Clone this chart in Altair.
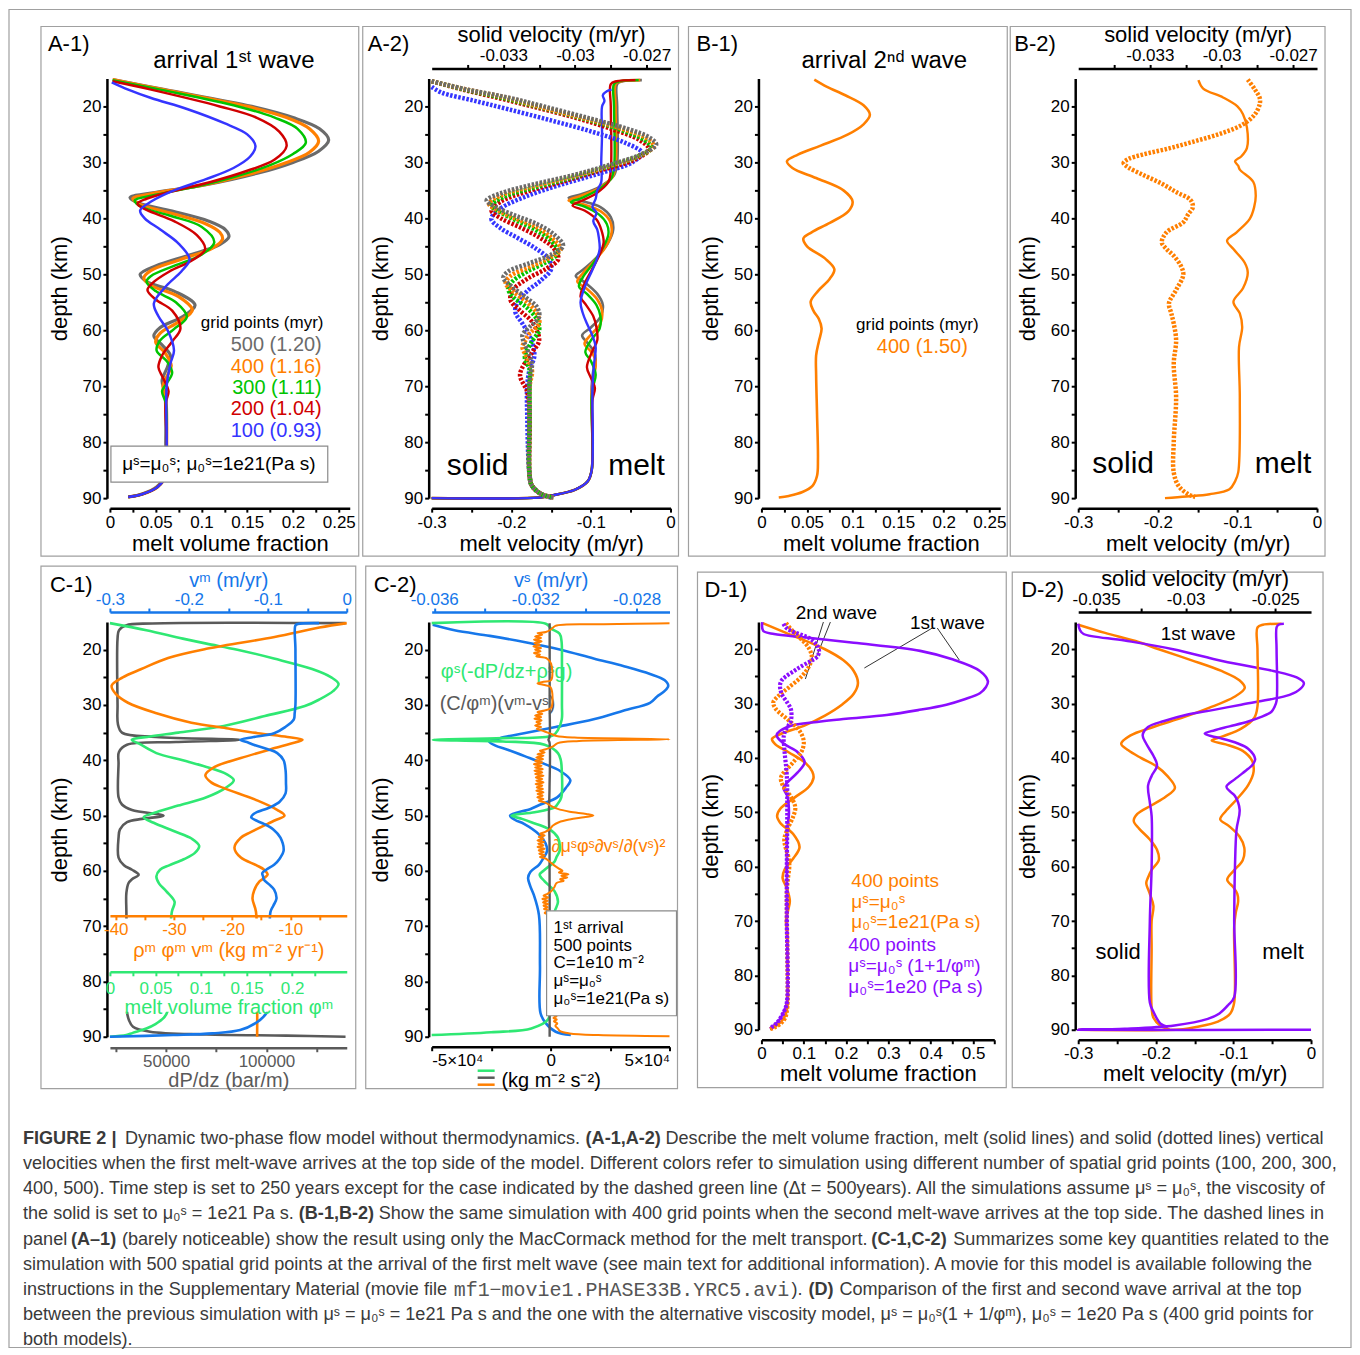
import altair as alt
import pandas as pd

FONT = "Liberation Sans"
MONO = "Liberation Mono"

GREY = "#6b6b6b"
ORANGE = "#ff7f00"
GREEN = "#00c400"
RED = "#d00000"
BLUE = "#3535ff"
PURPLE = "#8b0dff"
CBLUE = "#1677ea"
CGREEN = "#2fe873"
CGREY = "#5a5a5a"

# ---------------- data: (depth km, value) ----------------
A1_500 = [(15.2,0.003),(17.0,0.06),(20.0,0.155),(22.0,0.2),(24.0,0.229),(26.0,0.239),(28.0,0.228),(30.0,0.2),(32.0,0.16),(34.0,0.105),(35.5,0.045),(36.3,0.022),(37.3,0.032),(38.7,0.068),(40.5,0.108),(42.0,0.126),(43.3,0.13),(44.7,0.12),(46.5,0.088),(48.5,0.05),(50.0,0.033),(51.3,0.04),(53.0,0.07),(55.5,0.093),(57.5,0.08),(59.5,0.055),(61.0,0.048),(62.8,0.058),(64.5,0.066),(66.5,0.063),(69.0,0.057),(71.0,0.060),(75.0,0.061),(80.0,0.061),(86.0,0.060),(88.0,0.051),(89.2,0.036),(89.8,0.02)]
A1_400 = [(15.2,0.003),(17.0,0.058),(20.0,0.15),(22.0,0.193),(24.0,0.218),(26.2,0.228),(28.2,0.218),(30.2,0.19),(32.2,0.15),(34.1,0.1),(35.6,0.045),(36.5,0.025),(37.5,0.033),(39.0,0.065),(41.0,0.105),(42.5,0.12),(43.7,0.123),(45.3,0.112),(47.3,0.078),(49.3,0.045),(50.7,0.037),(52.0,0.045),(54.0,0.075),(56.4,0.09),(58.5,0.075),(60.5,0.055),(62.1,0.05),(64.0,0.06),(66.3,0.067),(68.0,0.063),(70.0,0.058),(72.0,0.061),(80.0,0.062),(86.0,0.061),(88.0,0.052),(89.3,0.035),(89.8,0.02)]
A1_300 = [(15.3,0.003),(17.0,0.055),(20.0,0.14),(22.0,0.18),(24.0,0.205),(26.5,0.214),(28.5,0.2),(30.5,0.175),(32.5,0.138),(34.2,0.098),(35.8,0.05),(36.8,0.027),(38.0,0.035),(39.5,0.065),(41.5,0.1),(44.3,0.114),(46.5,0.1),(48.5,0.07),(50.3,0.045),(51.3,0.04),(53.0,0.05),(55.0,0.072),(57.6,0.084),(59.8,0.07),(61.8,0.055),(63.6,0.051),(65.5,0.062),(67.6,0.068),(69.5,0.062),(70.9,0.057),(73.0,0.061),(80.0,0.062),(86.0,0.061),(88.0,0.052),(89.3,0.035),(89.8,0.02)]
A1_200 = [(15.5,0.003),(17.0,0.045),(20.0,0.12),(22.0,0.16),(24.5,0.185),(27.1,0.193),(29.5,0.18),(31.5,0.15),(33.5,0.11),(35.3,0.065),(36.5,0.04),(37.4,0.03),(38.5,0.04),(40.5,0.07),(43.0,0.095),(45.5,0.104),(47.5,0.09),(49.5,0.065),(51.5,0.047),(52.8,0.041),(54.5,0.05),(56.5,0.068),(59.7,0.077),(62.0,0.068),(64.5,0.057),(66.6,0.053),(68.5,0.058),(70.9,0.064),(73.0,0.061),(80.0,0.062),(86.0,0.061),(88.0,0.052),(89.3,0.035),(89.8,0.02)]
A1_100 = [(15.7,0.002),(17.0,0.02),(18.5,0.045),(20.5,0.085),(23.0,0.125),(25.0,0.15),(27.1,0.159),(29.0,0.153),(31.0,0.135),(33.0,0.105),(35.0,0.07),(37.0,0.045),(38.6,0.033),(40.0,0.038),(42.0,0.055),(44.5,0.075),(47.3,0.087),(49.5,0.078),(52.0,0.062),(55.2,0.048),(57.5,0.053),(60.0,0.063),(63.6,0.07),(66.0,0.066),(70.0,0.062),(80.0,0.062),(86.0,0.061),(88.0,0.052),(89.3,0.035),(89.8,0.02)]

A2S_500 = [(15.5,-0.036),(17.0,-0.0345),(18.5,-0.0327),(20.0,-0.0313),(22.0,-0.0295),(24.0,-0.0278),(25.5,-0.0269),(26.8,-0.0266),(28.5,-0.0272),(30.5,-0.0286),(32.2,-0.03),(34.0,-0.0318),(35.5,-0.0331),(36.8,-0.0337),(38.0,-0.0333),(39.5,-0.0325),(41.0,-0.0316),(42.8,-0.0309),(44.9,-0.0305),(46.5,-0.031),(48.0,-0.0319),(49.5,-0.0328),(50.6,-0.033),(52.0,-0.0327),(54.0,-0.0321),(55.8,-0.0316),(57.6,-0.0315),(59.4,-0.0319),(60.9,-0.0322),(62.5,-0.0321),(64.5,-0.0319),(66.0,-0.0318),(69.0,-0.0319),(75.0,-0.0319),(86.0,-0.0319),(87.8,-0.0318),(89.3,-0.0314),(89.9,-0.0309)]
A2S_400 = [(15.5,-0.036),(17.0,-0.0345),(18.5,-0.0328),(20.0,-0.0315),(22.0,-0.0297),(24.0,-0.028),(25.7,-0.027),(27.1,-0.0267),(28.8,-0.0273),(30.8,-0.0287),(32.5,-0.0301),(34.3,-0.0318),(35.9,-0.0331),(37.4,-0.0336),(38.6,-0.0332),(40.0,-0.0325),(41.6,-0.0316),(43.4,-0.031),(45.5,-0.0306),(47.1,-0.0311),(48.7,-0.0319),(50.3,-0.0327),(51.6,-0.0329),(53.0,-0.0326),(55.0,-0.032),(56.9,-0.0316),(58.8,-0.0315),(60.6,-0.0319),(62.0,-0.0321),(63.0,-0.0322),(65.0,-0.032),(67.2,-0.0318),(70.0,-0.0319),(75.0,-0.0319),(86.0,-0.0319),(87.8,-0.0318),(89.3,-0.0314),(89.9,-0.0309)]
A2S_300 = [(15.5,-0.036),(17.0,-0.0346),(18.5,-0.033),(20.0,-0.0316),(22.0,-0.0298),(24.0,-0.0282),(26.0,-0.0271),(27.4,-0.0268),(29.0,-0.0274),(31.0,-0.0288),(32.8,-0.0302),(34.6,-0.0318),(36.2,-0.033),(37.7,-0.0335),(39.0,-0.0331),(40.5,-0.0324),(42.2,-0.0316),(44.0,-0.031),(46.1,-0.0307),(47.8,-0.0312),(49.5,-0.032),(51.2,-0.0326),(52.5,-0.0328),(54.0,-0.0326),(56.0,-0.032),(58.0,-0.0316),(60.0,-0.0315),(62.0,-0.0318),(64.8,-0.0321),(67.0,-0.0319),(70.0,-0.0319),(75.0,-0.0319),(86.0,-0.0319),(87.8,-0.0318),(89.3,-0.0314),(89.9,-0.0309)]
A2S_200 = [(15.5,-0.036),(17.0,-0.0347),(18.5,-0.0332),(20.0,-0.0318),(22.0,-0.03),(24.0,-0.0285),(26.0,-0.0273),(27.7,-0.0269),(29.5,-0.0275),(31.5,-0.029),(33.3,-0.0304),(35.2,-0.032),(37.0,-0.0331),(38.6,-0.0335),(40.0,-0.0331),(41.6,-0.0323),(43.4,-0.0315),(45.3,-0.0309),(47.3,-0.0307),(49.0,-0.0312),(50.8,-0.032),(52.8,-0.0326),(54.6,-0.0327),(56.5,-0.0323),(58.5,-0.0318),(61.8,-0.0315),(64.0,-0.0318),(67.9,-0.0323),(71.0,-0.032),(75.0,-0.0319),(86.0,-0.0319),(87.8,-0.0318),(89.3,-0.0314),(89.9,-0.0309)]
A2S_100 = [(16.5,-0.036),(17.5,-0.0356),(19.0,-0.0342),(20.5,-0.0328),(22.5,-0.031),(24.5,-0.0293),(26.5,-0.0279),(28.3,-0.0272),(30.0,-0.0276),(32.0,-0.029),(34.0,-0.0306),(36.0,-0.032),(38.2,-0.0331),(40.1,-0.0335),(41.8,-0.0331),(43.5,-0.0324),(45.5,-0.0316),(47.3,-0.0311),(49.1,-0.031),(51.0,-0.0314),(53.0,-0.032),(55.0,-0.0324),(56.7,-0.0325),(58.8,-0.0322),(61.0,-0.0319),(64.5,-0.0317),(67.0,-0.0319),(70.0,-0.032),(75.0,-0.032),(86.0,-0.0319),(87.8,-0.0318),(89.3,-0.0314),(89.9,-0.031)]

A2M_500 = [(15.3,-0.036),(15.5,-0.06),(16.0,-0.067),(20.0,-0.067),(30.0,-0.067),(32.3,-0.071),(34.3,-0.088),(35.7,-0.112),(36.3,-0.128),(36.9,-0.112),(38.0,-0.088),(39.8,-0.075),(42.0,-0.072),(44.5,-0.079),(47.0,-0.093),(49.2,-0.11),(50.3,-0.119),(51.4,-0.108),(53.5,-0.092),(55.5,-0.085),(57.6,-0.088),(59.5,-0.1),(60.9,-0.111),(62.3,-0.104),(63.8,-0.096),(65.4,-0.094),(67.2,-0.097),(70.0,-0.099),(85.0,-0.099),(87.0,-0.104),(88.5,-0.12),(89.5,-0.148),(89.9,-0.165),(90.0,-0.3)]
A2M_400 = [(15.3,-0.038),(15.5,-0.062),(16.0,-0.069),(20.0,-0.069),(30.5,-0.069),(32.6,-0.073),(34.6,-0.09),(36.0,-0.113),(36.8,-0.128),(37.5,-0.11),(38.7,-0.088),(40.5,-0.076),(42.5,-0.074),(45.0,-0.081),(47.5,-0.095),(49.8,-0.11),(51.3,-0.117),(52.5,-0.106),(54.5,-0.092),(56.5,-0.086),(58.8,-0.088),(60.8,-0.1),(62.4,-0.108),(63.8,-0.1),(65.0,-0.095),(66.5,-0.094),(68.5,-0.097),(71.0,-0.099),(85.0,-0.099),(87.0,-0.104),(88.5,-0.12),(89.5,-0.148),(89.9,-0.165),(90.0,-0.3)]
A2M_300 = [(15.3,-0.04),(15.5,-0.064),(16.0,-0.071),(20.0,-0.071),(31.0,-0.071),(33.0,-0.075),(35.0,-0.092),(36.4,-0.112),(37.1,-0.125),(37.9,-0.108),(39.3,-0.09),(41.0,-0.08),(42.8,-0.078),(45.3,-0.085),(48.0,-0.097),(50.5,-0.11),(52.2,-0.115),(53.5,-0.105),(55.5,-0.093),(57.5,-0.088),(59.7,-0.089),(61.8,-0.1),(63.9,-0.107),(65.5,-0.1),(67.9,-0.094),(70.0,-0.097),(72.0,-0.099),(85.0,-0.099),(87.0,-0.104),(88.5,-0.12),(89.5,-0.148),(89.9,-0.165),(90.0,-0.3)]
A2M_200 = [(15.3,-0.044),(15.5,-0.068),(16.0,-0.075),(20.0,-0.075),(31.5,-0.075),(33.5,-0.078),(35.5,-0.093),(36.9,-0.112),(37.7,-0.123),(38.6,-0.108),(40.2,-0.093),(42.0,-0.087),(44.3,-0.084),(46.8,-0.09),(49.5,-0.1),(52.0,-0.109),(54.0,-0.113),(55.5,-0.106),(57.5,-0.097),(59.5,-0.093),(61.8,-0.092),(64.0,-0.099),(66.6,-0.105),(68.5,-0.1),(70.3,-0.095),(72.5,-0.098),(85.0,-0.099),(87.0,-0.104),(88.5,-0.12),(89.5,-0.148),(89.9,-0.165),(90.0,-0.3)]
A2M_100 = [(17.0,-0.074),(17.3,-0.08),(18.0,-0.085),(19.0,-0.083),(20.0,-0.086),(25.0,-0.086),(30.0,-0.087),(33.5,-0.087),(35.0,-0.092),(36.5,-0.094),(38.0,-0.098),(39.0,-0.093),(40.5,-0.097),(42.0,-0.092),(43.5,-0.09),(45.5,-0.089),(47.5,-0.093),(49.5,-0.099),(52.0,-0.107),(55.0,-0.113),(57.0,-0.11),(58.8,-0.105),(61.0,-0.098),(63.0,-0.094),(66.0,-0.096),(70.0,-0.098),(85.0,-0.099),(87.0,-0.104),(88.5,-0.12),(89.5,-0.148),(89.9,-0.165),(90.0,-0.3)]

B1_400 = [(15.2,0.058),(16.5,0.072),(18.0,0.092),(19.8,0.112),(21.5,0.119),(23.2,0.112),(25.0,0.095),(27.0,0.065),(28.6,0.04),(29.8,0.028),(31.0,0.034),(32.8,0.06),(35.0,0.09),(37.0,0.1),(38.8,0.095),(40.8,0.075),(42.5,0.055),(43.6,0.046),(45.0,0.05),(47.2,0.07),(49.1,0.08),(50.8,0.075),(53.0,0.062),(54.9,0.054),(56.5,0.057),(58.0,0.063),(59.7,0.066),(62.0,0.063),(64.5,0.06),(68.0,0.06),(75.0,0.061),(83.0,0.062),(86.0,0.061),(87.8,0.056),(88.9,0.045),(89.6,0.03),(89.9,0.019)]
B2S_400 = [(15.2,-0.0289),(17.0,-0.0286),(18.5,-0.0284),(19.6,-0.0284),(21.4,-0.0286),(23.2,-0.0291),(24.8,-0.03),(26.2,-0.0311),(27.5,-0.0322),(28.6,-0.0333),(29.4,-0.0339),(30.1,-0.0341),(30.9,-0.0339),(32.2,-0.0333),(33.8,-0.0325),(35.3,-0.0319),(36.7,-0.0313),(38.0,-0.0312),(39.3,-0.0314),(40.7,-0.0316),(42.5,-0.0323),(44.3,-0.0325),(45.5,-0.0323),(46.7,-0.032),(48.5,-0.0317),(50.1,-0.0316),(52.8,-0.0319),(55.2,-0.0322),(57.0,-0.0321),(58.8,-0.032),(61.8,-0.0319),(66.0,-0.032),(72.0,-0.0319),(80.0,-0.032),(85.4,-0.032),(87.8,-0.0318),(89.3,-0.0314),(89.8,-0.0311)]
B2M_400 = [(15.3,-0.149),(16.8,-0.143),(18.4,-0.118),(20.0,-0.1),(21.4,-0.093),(23.8,-0.088),(27.4,-0.088),(28.9,-0.095),(29.8,-0.103),(30.6,-0.099),(31.3,-0.097),(33.5,-0.08),(35.9,-0.077),(38.0,-0.079),(40.1,-0.0845),(42.5,-0.101),(44.0,-0.113),(45.5,-0.105),(47.9,-0.091),(49.7,-0.087),(52.5,-0.093),(54.9,-0.105),(57.0,-0.097),(59.4,-0.094),(63.0,-0.098),(72.0,-0.097),(85.4,-0.099),(87.0,-0.103),(88.4,-0.11),(89.3,-0.135),(89.7,-0.164),(90.0,-0.191)]

C1_DPDZ = [(15.2,139400),(15.25,43000),(15.6,30000),(16.5,26500),(18.0,25800),(30.0,25800),(33.5,26000),(35.0,28000),(35.8,45000),(36.3,86800),(36.7,55000),(37.2,30500),(38.5,26500),(40.6,26300),(46.7,26300),(48.0,28000),(49.0,33000),(50.0,48700),(50.6,38000),(51.2,30500),(52.5,27000),(54.0,26300),(57.6,26300),(59.0,29000),(59.8,33000),(60.7,36300),(61.5,33000),(62.2,31300),(64.0,30200),(67.4,30200),(75.0,30400),(85.5,30500),(87.0,31500),(88.2,33500),(89.1,42000),(89.6,70000),(89.8,110000),(90.0,139400)]
C1_PHI = [(15.2,0.0),(16.5,0.04),(18.0,0.08),(18.9,0.106),(20.0,0.14),(21.6,0.18),(23.5,0.222),(25.0,0.243),(26.2,0.251),(27.5,0.245),(29.0,0.23),(30.2,0.214),(32.0,0.17),(33.8,0.125),(35.0,0.075),(35.7,0.044),(36.3,0.024),(37.0,0.032),(38.7,0.051),(40.0,0.08),(41.2,0.106),(42.5,0.128),(43.6,0.136),(45.0,0.127),(46.7,0.106),(48.2,0.075),(49.4,0.051),(50.3,0.037),(51.3,0.048),(52.8,0.07),(54.2,0.09),(55.5,0.098),(56.8,0.093),(57.9,0.081),(59.0,0.065),(59.8,0.055),(61.0,0.051),(62.3,0.054),(63.7,0.062),(65.6,0.071),(67.4,0.068),(75.0,0.065),(85.5,0.063),(86.6,0.059),(87.7,0.05),(88.5,0.04),(89.3,0.025),(89.7,0.018),(90.0,0.0)]
C1_FLUX = [(15.2,-0.3),(16.0,-5.0),(17.7,-12.7),(19.8,-24.2),(21.5,-31.0),(23.5,-35.6),(25.0,-38.8),(26.5,-40.7),(28.0,-40.0),(29.6,-37.9),(31.5,-33.0),(33.2,-27.0),(34.2,-21.0),(35.1,-15.6),(35.8,-10.5),(36.3,-7.9),(37.0,-10.0),(37.8,-12.7),(39.6,-18.5),(41.2,-23.0),(42.7,-24.6),(44.0,-23.6),(45.0,-21.5),(47.3,-15.6),(49.0,-12.2),(50.0,-11.0),(50.8,-12.5),(51.5,-13.9),(53.0,-16.8),(54.0,-18.5),(55.8,-19.6),(57.6,-18.5),(59.0,-15.8),(59.8,-14.5),(60.7,-13.9),(61.3,-14.5),(61.9,-15.3),(63.5,-16.2),(65.0,-16.5),(67.4,-15.9),(75.0,-15.7),(90.0,-15.7)]
C1_VM = [(15.2,-0.035),(15.35,-0.062),(15.6,-0.065),(20.0,-0.065),(30.0,-0.065),(31.5,-0.066),(32.6,-0.067),(34.0,-0.078),(35.1,-0.092),(35.8,-0.118),(36.3,-0.135),(36.8,-0.125),(37.2,-0.118),(38.0,-0.1),(38.7,-0.088),(40.0,-0.08),(41.8,-0.0775),(44.0,-0.077),(46.0,-0.0775),(47.5,-0.085),(48.5,-0.097),(49.7,-0.118),(50.3,-0.121),(51.0,-0.113),(51.5,-0.105),(52.5,-0.093),(54.0,-0.084),(56.4,-0.08),(57.8,-0.085),(58.9,-0.092),(59.8,-0.102),(60.4,-0.107),(61.0,-0.106),(61.6,-0.105),(62.5,-0.098),(63.4,-0.092),(65.0,-0.089),(66.3,-0.093),(67.4,-0.0966),(75.0,-0.097),(85.0,-0.099),(86.3,-0.105),(87.5,-0.115),(88.8,-0.135),(89.4,-0.17),(89.7,-0.22),(90.0,-0.3)]

C2_VS = [(15.5,-0.03606),(16.5,-0.0352),(17.5,-0.0338),(18.6,-0.03245),(20.0,-0.031),(21.6,-0.0297),(23.0,-0.0285),(24.4,-0.02747),(25.5,-0.0269),(26.5,-0.02675),(27.5,-0.0269),(28.5,-0.0272),(29.6,-0.02747),(31.0,-0.0285),(32.6,-0.0297),(34.0,-0.0312),(35.1,-0.03245),(36.0,-0.0334),(36.6,-0.03383),(37.3,-0.0336),(38.1,-0.0331),(39.3,-0.0324),(40.6,-0.03167),(42.0,-0.031),(43.6,-0.03062),(45.0,-0.0308),(46.7,-0.03114),(48.0,-0.0318),(48.8,-0.03219),(50.0,-0.033),(50.8,-0.0328),(51.5,-0.03245),(53.4,-0.03186),(55.0,-0.0316),(56.4,-0.03154),(57.8,-0.0317),(58.9,-0.03186),(60.2,-0.0322),(61.3,-0.03229),(62.8,-0.0322),(64.4,-0.03206),(68.0,-0.03186),(77.2,-0.03182),(85.7,-0.0318),(87.5,-0.0316),(89.1,-0.0312),(89.7,-0.0306)]
C2_GRAV = [(15.2,-50000),(15.3,-2000),(16.2,300),(17.1,3800),(18.5,4600),(22.3,4770),(30.0,4770),(32.6,4700),(34.5,3100),(35.5,1000),(36.0,-20000),(36.3,-49500),(36.6,-20000),(37.2,-2500),(38.7,3100),(40.0,4300),(41.8,4700),(46.7,4500),(48.0,2800),(48.5,1700),(49.4,-6700),(50.0,-16500),(50.6,-12000),(51.2,-8100),(52.5,-400),(54.0,3100),(55.5,3900),(56.4,3800),(57.5,2500),(58.3,1700),(59.8,-2500),(60.7,-4600),(61.9,-2500),(63.7,1700),(65.6,3100),(67.4,1700),(71.1,300),(83.3,0),(86.9,-1100),(88.5,-8100),(89.2,-25000),(89.7,-50000)]
C2_DRAG = [(15.2,-400),(30.0,-400),(35.8,-450),(36.3,-900),(36.8,-450),(45.0,-450),(50.0,-700),(55.0,-450),(70.0,-400),(90.0,-400)]
C2_VISC = [(15.2,50000),(15.4,20000),(15.7,2000),(16.3,300),(16.8,-2000),(17.0,-5500),(17.3,-3500),(17.6,-6500),(17.9,-4000),(18.2,-7000),(18.5,-3800),(18.8,-6800),(19.1,-4500),(19.4,-7200),(19.7,-4000),(20.0,-6500),(20.3,-4200),(20.6,-7000),(20.9,-4500),(21.2,-6000),(21.6,-1500),(22.5,200),(25.5,200),(25.8,-3000),(26.1,-5500),(26.4,-2500),(26.8,0),(30.5,200),(31.0,-2500),(31.3,-5500),(31.6,-3500),(31.9,-6500),(32.2,-4000),(32.5,-6800),(32.8,-3800),(33.1,-6000),(33.4,-4200),(33.7,-6500),(34.0,-4000),(34.3,-5800),(34.7,-3000),(35.2,0),(35.6,2500),(35.9,10000),(36.2,50000),(36.5,12000),(36.9,3000),(37.5,1000),(38.0,-2000),(38.3,-4500),(38.6,-2500),(38.9,-5500),(39.2,-3000),(39.5,-6000),(39.8,-3200),(40.1,-6500),(40.4,-3500),(40.7,-7000),(41.0,-3800),(41.3,-6500),(41.6,-3300),(41.9,-6800),(42.2,-3500),(42.5,-6500),(42.8,-3000),(43.1,-6200),(43.4,-3500),(43.7,-6000),(44.0,-3000),(44.3,-6300),(44.6,-3500),(44.9,-5800),(45.2,-3200),(45.5,-6000),(45.8,-3000),(46.1,-5500),(46.4,-3300),(46.7,-5600),(47.0,-3000),(47.3,-5000),(47.7,-2000),(48.2,0),(48.8,3000),(49.3,8000),(49.7,15000),(50.0,18000),(50.3,14000),(50.7,8000),(51.2,3500),(51.8,1000),(52.5,-500),(53.0,-2500),(53.3,-4500),(53.6,-2500),(53.9,-5000),(54.2,-3000),(54.5,-5500),(54.8,-2800),(55.1,-5200),(55.4,-3000),(55.7,-5500),(56.0,-2500),(56.3,-5000),(56.6,-2800),(56.9,-4800),(57.2,-2500),(57.5,-4500),(57.8,-2000),(58.3,-500),(59.0,1500),(59.6,3500),(60.0,5000),(60.3,3500),(60.6,7500),(60.9,4500),(61.2,7000),(61.5,4000),(61.8,5500),(62.2,2500),(63.0,1500),(63.8,0),(64.2,-1500),(64.5,-3000),(64.8,-1000),(65.1,-3500),(65.4,-1200),(65.7,-3200),(66.0,-1000),(66.3,-3000),(66.6,-1200),(66.9,-2800),(67.2,-800),(67.6,-2500),(68.0,-500),(69.0,0),(75.0,0),(84.0,200),(84.5,1500),(84.8,500),(85.1,2000),(85.4,800),(85.7,2200),(86.0,1000),(86.3,2500),(86.6,1200),(86.9,2600),(87.2,1400),(87.6,2800),(88.0,2000),(88.5,3000),(89.0,4000),(89.4,8000),(89.7,20000),(89.9,50000)]

D1_ALT_1 = [(15.0,0.002),(16.6,0.004),(17.2,0.03),(17.8,0.1),(18.8,0.218),(20.3,0.375),(21.9,0.453),(24.0,0.516),(25.9,0.535),(27.0,0.53),(28.1,0.516),(29.2,0.48),(30.2,0.437),(31.2,0.37),(32.1,0.296),(32.8,0.2),(33.3,0.14),(34.3,0.061),(35.8,0.036),(37.4,0.053),(38.9,0.085),(40.8,0.102),(42.7,0.085),(44.5,0.061),(45.5,0.052),(47.0,0.061),(50.1,0.065),(53.2,0.061),(60.0,0.06),(70.0,0.06),(85.0,0.06),(86.7,0.053),(88.6,0.038),(89.8,0.02)]
D1_ALT_2 = [(15.3,0.052),(16.0,0.058),(16.6,0.069),(18.1,0.116),(19.5,0.133),(20.6,0.136),(21.5,0.13),(22.2,0.116),(23.1,0.095),(24.0,0.077),(25.0,0.058),(25.6,0.049),(26.5,0.044),(27.5,0.045),(28.4,0.049),(29.7,0.06),(30.9,0.069),(32.0,0.071),(33.3,0.069),(34.5,0.06),(35.8,0.053),(38.3,0.054),(43.3,0.06),(50.0,0.061),(60.0,0.06),(70.0,0.06),(85.0,0.06),(86.7,0.053),(88.6,0.038),(89.8,0.02)]
D2S_ALT = [(15.3,-0.036),(16.5,-0.0359),(17.2,-0.0357),(18.4,-0.0334),(20.0,-0.0307),(22.2,-0.0279),(24.0,-0.0251),(25.2,-0.0238),(26.2,-0.0234),(27.3,-0.0236),(28.4,-0.0242),(29.3,-0.0254),(30.2,-0.0269),(31.2,-0.0285),(32.1,-0.03),(33.2,-0.0312),(34.3,-0.0321),(35.8,-0.0324),(37.4,-0.0322),(39.6,-0.0318),(41.4,-0.0316),(43.3,-0.0319),(45.1,-0.0321),(48.2,-0.032),(50.7,-0.0319),(60.0,-0.0319),(70.0,-0.032),(85.0,-0.032),(86.7,-0.0318),(88.9,-0.0314),(89.5,-0.031)]
D2M_ALT = [(15.3,-0.035),(15.5,-0.042),(16.0,-0.0444),(20.0,-0.0444),(29.5,-0.0444),(30.6,-0.047),(31.5,-0.051),(32.5,-0.065),(33.3,-0.081),(34.2,-0.105),(34.9,-0.124),(35.5,-0.137),(36.0,-0.128),(36.4,-0.116),(37.3,-0.095),(38.3,-0.081),(40.2,-0.072),(41.2,-0.075),(42.0,-0.081),(43.9,-0.098),(45.3,-0.109),(46.2,-0.104),(47.0,-0.098),(49.5,-0.092),(53.2,-0.096),(60.0,-0.098),(70.0,-0.099),(84.0,-0.099),(85.5,-0.107),(87.0,-0.118),(88.0,-0.133),(89.2,-0.176),(89.8,-0.24),(90.0,-0.3),(90.0,0.0)]

# ---------------- annotation text (page-space positions) ----------------
FRAMES = [(8, 8, 1351, 1347), (40, 25, 358, 555), (362, 25, 678, 555), (688, 25, 1007, 555),
          (1010, 25, 1325, 555), (40, 565, 355, 1088), (365, 565, 677, 1088), (697, 571, 1006, 1087),
          (1012, 571, 1323, 1087)]
A1_BOX = [(110, 445, 327, 481)]
C2_BOX = [(546, 910, 676, 1015)]
RULES = [(823, 621, 805, 678, "black", 0.8), (830, 621, 816, 656, "black", 0.8),
         (932, 627, 864, 667, "black", 0.8), (937, 627, 959, 659, "black", 0.8),
         (477, 1070, 494, 1070, CGREEN, 2.5), (477, 1077, 494, 1077, CGREY, 2.5),
         (477, 1084, 494, 1084, ORANGE, 2.5)]

TXT_LEFT = [
    ("A-1)", 47, 43, 22, "black"), ("A-2)", 367, 43, 22, "black"), ("B-1)", 696, 43, 22, "black"),
    ("B-2)", 1014, 43, 22, "black"), ("C-1)", 49, 584, 22, "black"), ("C-2)", 373, 584, 22, "black"),
    ("D-1)", 704, 589, 22, "black"), ("D-2)", 1021, 589, 22, "black"),
    ("grid points (myr)", 200, 322, 17, "black"),
    ("\u03c6\u02e2(-dP/dz+\u03c1\u02e2g)", 440, 671, 20, CGREEN),
    ("(C/\u03c6\u1d50)(v\u1d50-v\u02e2)", 439, 703, 20, CGREY),
    ("\u2202\u03bc\u02e2\u03c6\u02e2\u2202v\u02e2/\u2202(v\u02e2)\u00b2", 551, 846, 18, ORANGE),
    ("400 points", 851, 880, 19, ORANGE), ("\u03bc\u02e2=\u03bc\u2080\u02e2", 851, 901, 19, ORANGE),
    ("\u03bc\u2080\u02e2=1e21(Pa s)", 851, 921, 19, ORANGE),
    ("400 points", 848, 944, 19, PURPLE), ("\u03bc\u02e2=\u03bc\u2080\u02e2 (1+1/\u03c6\u1d50)", 848, 965, 19, PURPLE),
    ("\u03bc\u2080\u02e2=1e20 (Pa s)", 848, 986, 19, PURPLE),
]
C2_BOX_TXT = [
    ("1\u02e2\u1d57 arrival", 553, 927, 17, "black"), ("500 points", 553, 945, 17, "black"),
    ("C=1e10 m\u207b\u00b2", 553, 962, 17, "black"), ("\u03bc\u02e2=\u03bc\u2080\u02e2", 553, 980, 17, "black"),
    ("\u03bc\u2080\u02e2=1e21(Pa s)", 553, 998, 17, "black"),
]
TXT_RIGHT = [
    ("500 (1.20)", 321, 344, 20, GREY), ("400 (1.16)", 321, 366, 20, ORANGE),
    ("300 (1.11)", 321, 387, 20, GREEN), ("200 (1.04)", 321, 408, 20, RED),
    ("100 (0.93)", 321, 430, 20, BLUE),
]
TXT_CENTER = [
    ("arrival 1\u02e2\u1d57 wave", 233, 60, 24, "black"), ("arrival 2\u207f\u1d48 wave", 884, 60, 24, "black"),
    ("solid", 477, 465, 30, "black"), ("melt", 636, 465, 30, "black"),
    ("solid", 1123, 463, 30, "black"), ("melt", 1283, 463, 30, "black"),
    ("grid points (myr)", 917, 324, 17, "black"), ("400 (1.50)", 922, 346, 20, ORANGE),
    ("2nd wave", 836, 612, 19, "black"), ("1st wave", 947, 622, 19, "black"),
    ("1st wave", 1198, 633, 19, "black"), ("solid", 1118, 951, 22, "black"), ("melt", 1283, 951, 22, "black"),
]
A1_BOX_TXT = [("\u03bc\u02e2=\u03bc\u2080\u02e2; \u03bc\u2080\u02e2=1e21(Pa s)", 218, 463, 19, "black")]

CAP_Y = [1138, 1163, 1188, 1213, 1239, 1264, 1289, 1314, 1339]
CAP_REG = [
    (124, 0, "Dynamic two-phase flow model without thermodynamics."),
    (665, 0, "Describe the melt volume fraction, melt (solid lines) and solid (dotted lines) vertical"),
    (22, 1, "velocities when the first melt-wave arrives at the top side of the model. Different colors refer to simulation using different number of spatial grid points (100, 200, 300,"),
    (22, 2, "400, 500). Time step is set to 250 years except for the case indicated by the dashed green line (\u0394t = 500years). All the simulations assume \u03bc\u02e2 = \u03bc\u2080\u02e2, the viscosity of"),
    (22, 3, "the solid is set to \u03bc\u2080\u02e2 = 1e21 Pa s."),
    (378, 3, "Show the same simulation with 400 grid points when the second melt-wave arrives at the top side. The dashed lines in"),
    (22, 4, "panel"),
    (121, 4, "(barely noticeable) show the result using only the MacCormack method for the melt transport."),
    (953, 4, "Summarizes some key quantities related to the"),
    (22, 5, "simulation with 500 spatial grid points at the arrival of the first melt wave (see main text for additional information). A movie for this model is available following the"),
    (22, 6, "instructions in the Supplementary Material (movie file"),
    (791, 6, ")."),
    (839, 6, "Comparison of the first and second wave arrival at the top"),
    (22, 7, "between the previous simulation with \u03bc\u02e2  = \u03bc\u2080\u02e2  = 1e21 Pa s and the one with the alternative viscosity model,  \u03bc\u02e2  = \u03bc\u2080\u02e2(1 + 1/\u03c6\u1d50),  \u03bc\u2080\u02e2  = 1e20 Pa s (400 grid points for"),
    (22, 8, "both models)."),
]
CAP_BOLD = [(22, 0, "FIGURE 2 |"), (585, 0, "(A-1,A-2)"), (298, 3, "(B-1,B-2)"), (70, 4, "(A\u20131)"),
            (871, 4, "(C-1,C-2)"), (808, 6, "(D)")]
CAP_MONO = [(453, 6, "mf1\u2212movie1.PHASE33B.YRC5.avi")]

# ---------------- helpers ----------------
def table(series):
    rows = []
    for name, color, width, pts in series:
        for i, (d, v) in enumerate(pts):
            rows.append({"s": name, "c": color, "w": width, "i": i, "d": d, "v": v})
    return pd.DataFrame(rows)


def vals(a, b, step):
    n = int(round((b - a) / step))
    return [round(a + k * step, 6) for k in range(n + 1)]


def minor_expr(step):
    return ("abs(datum.value / %s - round(datum.value / %s)) < 0.001 ? "
            "replace(datum.label, '\u2212', '-') : ''" % (step, step))


def xaxis(orient, title, values, step, color="black", offset=10, **kw):
    base = dict(orient=orient, title=title, values=values, format="~g",
                labelExpr=minor_expr(step), offset=offset,
                domainColor=color, tickColor=color, labelColor=color, titleColor=color)
    base.update(kw)
    return alt.Axis(**base)


YAXIS = alt.Axis(orient="left", title="depth (km)", values=vals(20, 90, 5), format="d",
                 labelExpr=minor_expr(10), offset=3, titlePadding=11)
YSC = dict(domain=[15, 90], reverse=True, nice=False, zero=False)


def curves(df, dom, axis=None, dash=None, yaxis=False):
    kw = dict(interpolate="catmull-rom", clip=False)
    if dash is not None:
        kw["strokeDash"] = dash
        kw["strokeCap"] = "butt"
    return alt.Chart(df).mark_line(**kw).encode(
        x=alt.X("v:Q", scale=alt.Scale(domain=dom, nice=False, zero=False), axis=axis),
        y=alt.Y("d:Q", scale=alt.Scale(**YSC), axis=YAXIS if yaxis else None),
        color=alt.Color("c:N", scale=None),
        size=alt.Size("w:Q", scale=None),
        detail="s:N",
        order="i:Q",
    )


class Space:
    """Maps page-space annotation positions into a panel whose plot area starts at (px, py)."""

    def __init__(self, px, py, w, h):
        self.xs = dict(domain=[px, px + w], nice=False, zero=False)
        self.ys = dict(domain=[py, py + h], nice=False, zero=False, reverse=True)

    def x(self, f):
        return alt.X(f + ":Q", scale=alt.Scale(**self.xs), axis=None)

    def y(self, f):
        return alt.Y(f + ":Q", scale=alt.Scale(**self.ys), axis=None)

    def text(self, rows, align, font=FONT, weight="normal"):
        df = pd.DataFrame(rows, columns=["t", "x", "y", "fs", "col"])
        return alt.Chart(df).mark_text(align=align, baseline="middle", font=font, fontWeight=weight).encode(
            x=self.x("x"), y=self.y("y"), text="t:N", size=alt.Size("fs:Q", scale=None),
            color=alt.Color("col:N", scale=None))

    def rects(self, rows, **style):
        df = pd.DataFrame(rows, columns=["x", "y", "x2", "y2"])
        return alt.Chart(df).mark_rect(**style).encode(x=self.x("x"), y=self.y("y"), x2="x2:Q", y2="y2:Q")

    def rules(self, rows):
        df = pd.DataFrame(rows, columns=["x", "y", "x2", "y2", "col", "sw"])
        return alt.Chart(df).mark_rule().encode(
            x=self.x("x"), y=self.y("y"), x2="x2:Q", y2="y2:Q",
            color=alt.Color("col:N", scale=None), size=alt.Size("sw:Q", scale=None))


def cap_rows(segs, size, color):
    return [(t, x, CAP_Y[k], size, color) for x, k, t in segs]


def spacer(w):
    return alt.Chart(pd.DataFrame({"a": [0]})).mark_point(opacity=0).encode(
        x=alt.X("a:Q", axis=None), y=alt.Y("a:Q", axis=None)).properties(width=w, height=1)


DOT = [2.5, 1.6]
H1, H2, HD = 420, 415, 408
CAPC = "#3a3a3a"
CAPS = 18.1
# column layout (shared by both rows): plot left edges at 109, 431, 761, 1078
GAPS = [82, 91, 78]
X2, X3, X4 = 431, 761, 1078
TP_BOTTOM = 3

# ---------------- row 1 ----------------
SA1 = Space(109, 77, 240, H1)
A1 = alt.layer(
    curves(table([("500", GREY, 3.2, A1_500), ("400", ORANGE, 3.2, A1_400), ("300", GREEN, 2.5, A1_300),
                  ("200", RED, 2.5, A1_200), ("100", BLUE, 2.5, A1_100)]),
           [0, 0.262], xaxis("bottom", "melt volume fraction", vals(0, 0.25, 0.025), 0.05, titlePadding=TP_BOTTOM),
           yaxis=True),
    SA1.rects(FRAMES, fillOpacity=0, stroke="#a0a0a0", strokeWidth=1.2),
    SA1.rects(A1_BOX, fill="white", stroke="#8a8a8a", strokeWidth=1.2),
    SA1.rules(RULES),
    SA1.text(TXT_LEFT, "left"),
    SA1.text(TXT_RIGHT, "right"),
    SA1.text(TXT_CENTER, "center"),
    SA1.text(A1_BOX_TXT, "center"),
    SA1.text(cap_rows(CAP_REG, CAPS, CAPC), "left"),
    SA1.text(cap_rows(CAP_BOLD, CAPS, CAPC), "left", weight="bold"),
    SA1.text(cap_rows(CAP_MONO, 20, "#555555"), "left", font=MONO),
).resolve_scale(x="independent", y="independent").properties(width=240, height=H1)

SOLID_TOP = xaxis("top", "solid velocity (m/yr)", [-0.0345, -0.033, -0.0315, -0.03, -0.0285, -0.027], 0.003,
                  labelPadding=0, titlePadding=0)
MELT_BOTTOM = xaxis("bottom", "melt velocity (m/yr)", vals(-0.3, 0, 0.05), 0.1, titlePadding=TP_BOTTOM)
A2 = alt.layer(
    curves(table([("m500", GREY, 2.6, A2M_500), ("m400", ORANGE, 2.6, A2M_400), ("m300", GREEN, 2.4, A2M_300),
                  ("m200", RED, 2.4, A2M_200), ("m100", BLUE, 2.4, A2M_100)]),
           [-0.3, 0], MELT_BOTTOM, yaxis=True),
    curves(table([("s100", BLUE, 4.5, A2S_100), ("s200", RED, 4.5, A2S_200), ("s300", GREEN, 4.5, A2S_300),
                  ("s400", ORANGE, 4.5, A2S_400), ("s500", GREY, 4.5, A2S_500)]),
           [-0.036, -0.026], SOLID_TOP, dash=DOT),
).resolve_scale(x="independent", y="independent").properties(width=239, height=H1)

B1 = curves(table([("b", ORANGE, 2.6, B1_400)]), [0, 0.262],
            xaxis("bottom", "melt volume fraction", vals(0, 0.25, 0.025), 0.05, titlePadding=TP_BOTTOM),
            yaxis=True).properties(width=239, height=H1)

B2 = alt.layer(
    curves(table([("m", ORANGE, 2.4, B2M_400)]), [-0.3, 0], MELT_BOTTOM, yaxis=True),
    curves(table([("s", ORANGE, 4.5, B2S_400)]), [-0.036, -0.026], SOLID_TOP, dash=DOT),
).resolve_scale(x="independent", y="independent").properties(width=239, height=H1)

# ---------------- row 2 ----------------
mask = pd.DataFrame({"a": [0], "b": [1], "d": [68.6], "d2": [85.5]})
C1 = alt.layer(
    curves(table([("dp", CGREY, 2.6, C1_DPDZ)]), [22000, 140000],
           xaxis("bottom", "dP/dz (bar/m)", [25000, 50000, 75000, 100000, 125000], 50000, color=CGREY,
                 offset=11, format="d", titleFontSize=20, titlePadding=1), yaxis=True),
    curves(table([("phi", CGREEN, 2.6, C1_PHI)]), [0, 0.26],
           xaxis("bottom", "melt volume fraction \u03c6\u1d50", vals(0, 0.225, 0.025), 0.05, color=CGREEN,
                 offset=-65, zindex=1, labelPadding=5, titleFontSize=20, titlePadding=1)),
    curves(table([("flux", ORANGE, 2.6, C1_FLUX)]), [-41, -0.3],
           xaxis("bottom", "\u03c1\u1d50 \u03c6\u1d50 v\u1d50 (kg m\u207b\u00b2 yr\u207b\u00b9)", vals(-40, -5, 5), 10,
                 color=ORANGE, offset=-121, zindex=1, titleFontSize=20, titlePadding=3)),
    curves(table([("vm", CBLUE, 2.6, C1_VM)]), [-0.3, 0],
           xaxis("top", "v\u1d50 (m/yr)", vals(-0.3, 0, 0.05), 0.1, color=CBLUE, titleFontSize=20,
                 labelPadding=0, titlePadding=0)),
    alt.Chart(mask).mark_rect(color="white").encode(
        x=alt.X("a:Q", scale=alt.Scale(domain=[0, 1]), axis=None), x2="b:Q",
        y=alt.Y("d:Q", scale=alt.Scale(**YSC), axis=None), y2="d2:Q"),
).resolve_scale(x="independent", y="independent").properties(width=237, height=H2)

C2_BOTTOM = alt.Axis(orient="bottom", title="(kg m\u207b\u00b2 s\u207b\u00b2)", values=[-50000, -25000, 0, 25000, 50000],
                     labelExpr="datum.value == 0 ? '0' : (datum.value == -50000 ? '-5\u00d710\u2074' : "
                               "(datum.value == 50000 ? '5\u00d710\u2074' : ''))",
                     offset=10, labelFlush=True, titlePadding=2, titleFontSize=20)
SC2 = Space(X2, 621, 238, H2)
C2 = alt.layer(
    curves(table([("vs", CBLUE, 2.6, C2_VS)]), [-0.0361, -0.0267],
           xaxis("top", "v\u02e2 (m/yr)", [-0.036, -0.034, -0.032, -0.030, -0.028], 0.004, color=CBLUE,
                 titleFontSize=20, labelPadding=0, titlePadding=0), yaxis=True),
    curves(table([("g", CGREEN, 2.6, C2_GRAV)]), [-50000, 50000], C2_BOTTOM),
    curves(table([("c", CGREY, 2.4, C2_DRAG)]), [-50000, 50000], None),
    curves(table([("o", ORANGE, 2.0, C2_VISC)]), [-50000, 50000], None),
    SC2.rects(C2_BOX, fill="white", stroke="#8a8a8a", strokeWidth=1.2),
    SC2.text(C2_BOX_TXT, "left"),
).resolve_scale(x="independent", y="independent").properties(width=238, height=H2)

D1_AX = xaxis("bottom", "melt volume fraction", vals(0, 0.55, 0.05), 0.1)
D1 = alt.layer(
    curves(table([("o1", ORANGE, 2.6, A1_400), ("p1", PURPLE, 2.6, D1_ALT_1)]), [0, 0.55], D1_AX, yaxis=True),
    curves(table([("o2", ORANGE, 4.2, B1_400), ("p2", PURPLE, 4.2, D1_ALT_2)]), [0, 0.55], None, dash=DOT),
).resolve_scale(x="independent", y="independent").properties(width=233, height=HD)

D2 = alt.layer(
    curves(table([("os", ORANGE, 2.5, A2S_400), ("ps", PURPLE, 2.5, D2S_ALT)]), [-0.036, -0.023],
           xaxis("top", "solid velocity (m/yr)", [-0.035, -0.0325, -0.03, -0.0275, -0.025], 0.005,
                 labelPadding=0, titlePadding=0), yaxis=True),
    curves(table([("om", ORANGE, 2.5, A2M_400), ("pm", PURPLE, 2.5, D2M_ALT)]), [-0.3, 0],
           xaxis("bottom", "melt velocity (m/yr)", vals(-0.3, 0, 0.05), 0.1)),
).resolve_scale(x="independent", y="independent").properties(width=233, height=HD)

cells = [A1, spacer(GAPS[0]), A2, spacer(GAPS[1]), B1, spacer(GAPS[2]), B2,
         C1, spacer(GAPS[0]), C2, spacer(GAPS[1]), D1, spacer(GAPS[2]), D2]

chart = alt.concat(*cells, columns=7, bounds="flush",
                   spacing={"row": 124, "column": 0}).properties(padding=0, background="white")

chart = chart.configure(font=FONT).configure_view(stroke=None).configure_axis(
    labelFont=FONT, titleFont=FONT, labelFontSize=17, titleFontSize=22, titleFontWeight="normal",
    domainWidth=2.5, tickWidth=2, tickSize=4, labelPadding=2, titlePadding=2, grid=False,
    labelFlush=False, labelOverlap=False, domainColor="black", tickColor="black",
    labelColor="black", titleColor="black")

chart.save("out.html", embed_options={"renderer": "svg", "actions": False})
